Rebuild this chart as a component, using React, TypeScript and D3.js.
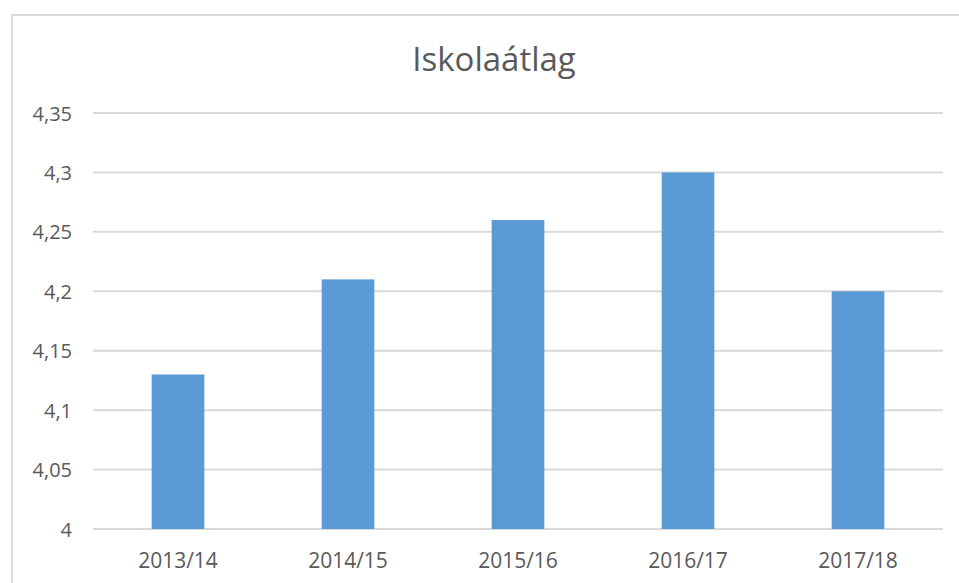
import * as d3 from 'd3'

const categories = ['2013/14', '2014/15', '2015/16', '2016/17', '2017/18']
const values = [4.13, 4.21, 4.26, 4.3, 4.2]
const yTicks = [4, 4.05, 4.1, 4.15, 4.2, 4.25, 4.3, 4.35]
const title = 'Iskolaátlag'

const W = 959
const H = 583
const font = "'Open Sans', sans-serif"
const textColor = '#595959'
const gridColor = '#D9D9D9'
const barColor = '#5B9BD5'

export default function App() {
  const plot = { left: 93, right: 943, top: 113, bottom: 529 }

  const x = d3.scaleBand<string>()
    .domain(categories)
    .range([plot.left, plot.right])
    .padding(0)

  const y = d3.scaleLinear()
    .domain([4, 4.35])
    .range([plot.bottom, plot.top])

  const barW = x.bandwidth() * 0.31
  const fmt = (v: number) => d3.format('~g')(v).replace('.', ',')

  return (
    <svg width={W} height={H} style={{ position: 'absolute', left: 0, top: 0, background: '#fff' }}>
      <rect x={12} y={15} width={1000} height={1000} fill="#fff" stroke={gridColor} strokeWidth={2} />

      <text x={494} y={71} textAnchor="middle" fontFamily={font} fontSize={33} fill={textColor}>
        {title}
      </text>

      {/* gridlines + y labels */}
      {yTicks.map(t => (
        <g key={t}>
          <line x1={plot.left} x2={plot.right} y1={y(t)} y2={y(t)} stroke={gridColor} strokeWidth={2} />
          <text x={72} y={y(t) + 7.5} textAnchor="end" fontFamily={font} fontSize={20} fill={textColor}>
            {fmt(t)}
          </text>
        </g>
      ))}

      {/* bars */}
      {categories.map((c, i) => {
        const cx = (x(c) ?? 0) + x.bandwidth() / 2
        return (
          <rect
            key={c}
            x={cx - barW / 2}
            y={y(values[i])}
            width={barW}
            height={y(4) - y(values[i])}
            fill={barColor}
          />
        )
      })}

      {/* x labels */}
      {categories.map(c => (
        <text
          key={c}
          x={(x(c) ?? 0) + x.bandwidth() / 2}
          y={568}
          textAnchor="middle"
          fontFamily={font}
          fontSize={21}
          fill={textColor}
        >
          {c}
        </text>
      ))}
    </svg>
  )
}
